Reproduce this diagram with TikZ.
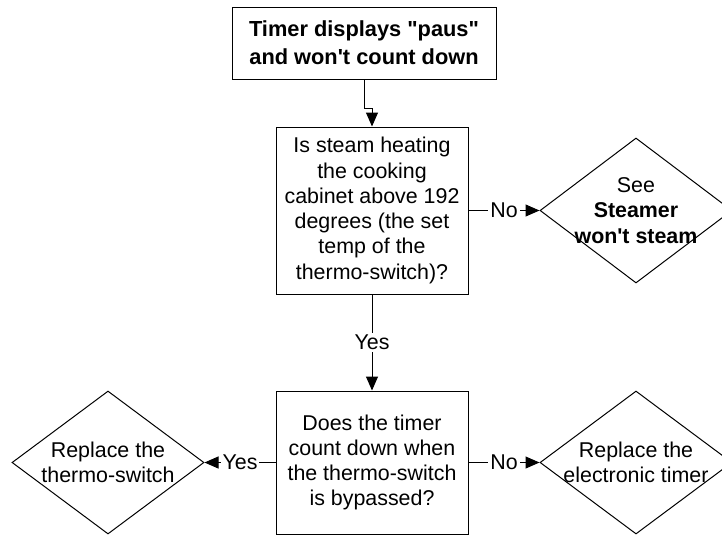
\documentclass[tikz,border=0pt]{standalone}
\usepackage{fontspec}
\setmainfont{Liberation Sans}[Ligatures=TeXOff]
\usetikzlibrary{arrows.meta}
\usetikzlibrary{shapes.geometric}

\begin{document}
\begin{tikzpicture}[x=0.5pt,y=-0.5pt]
        \useasboundingbox (0,0) rectangle (722,536);
        \tikzstyle{every node}=[font=\fontsize{10.7}{12.65}\selectfont, align=center, inner sep=0pt]
        \tikzstyle{box}=[draw, rectangle, line width=0.5pt]
        \tikzstyle{dia}=[draw, diamond, line width=0.5pt, minimum width=96pt, minimum height=71.5pt]
        \tikzstyle{arr}=[line width=0.5pt, -{Triangle[length=7pt,width=6pt]}]
        \tikzstyle{lbl}=[fill=white, inner xsep=1pt, inner ysep=1pt]

        % start and the two questions
        \node[box, minimum width=132pt, minimum height=36pt, font=\fontsize{10.9}{14}\selectfont\bfseries] (start) at (364, 43) {Timer displays "paus"\\and won't count down};
        \node[box, minimum width=96pt, minimum height=83.5pt] (q_steam) at (372, 210.5) {Is steam heating\\the cooking\\cabinet above 192\\degrees (the set\\temp of the\\thermo-switch)?};
        \node[box, minimum width=96pt, minimum height=71.5pt] (q_timer) at (372, 462.5) {Does the timer\\count down when\\the thermo-switch\\is bypassed?};

        % answers
        \node[dia, minimum height=72.5pt] (see_steamer) at (636, 210.5) {};
        \node (see_steamer_txt) at (see_steamer) {See\\\textbf{Steamer}\\\textbf{won't steam}};
        \node[dia] (repl_switch) at (108, 462.5) {};
        \node (repl_switch_txt) at (repl_switch) {Replace the\\thermo-switch};
        \node[dia] (repl_timer) at (636, 462.5) {};
        \node (repl_timer_txt) at (repl_timer) {Replace the\\electronic timer};

        \draw[arr] (start.south) -- ++(0,29) -| (q_steam.north);
        \draw[arr] (q_steam.east) -- node[lbl] {No} (see_steamer.west);
        \draw[arr] (q_steam.south) -- node[lbl] {Yes} (q_timer.north);
        \draw[arr] (q_timer.west) -- node[lbl] {Yes} (repl_switch.east);
        \draw[arr] (q_timer.east) -- node[lbl] {No} (repl_timer.west);
\end{tikzpicture}
\end{document}
